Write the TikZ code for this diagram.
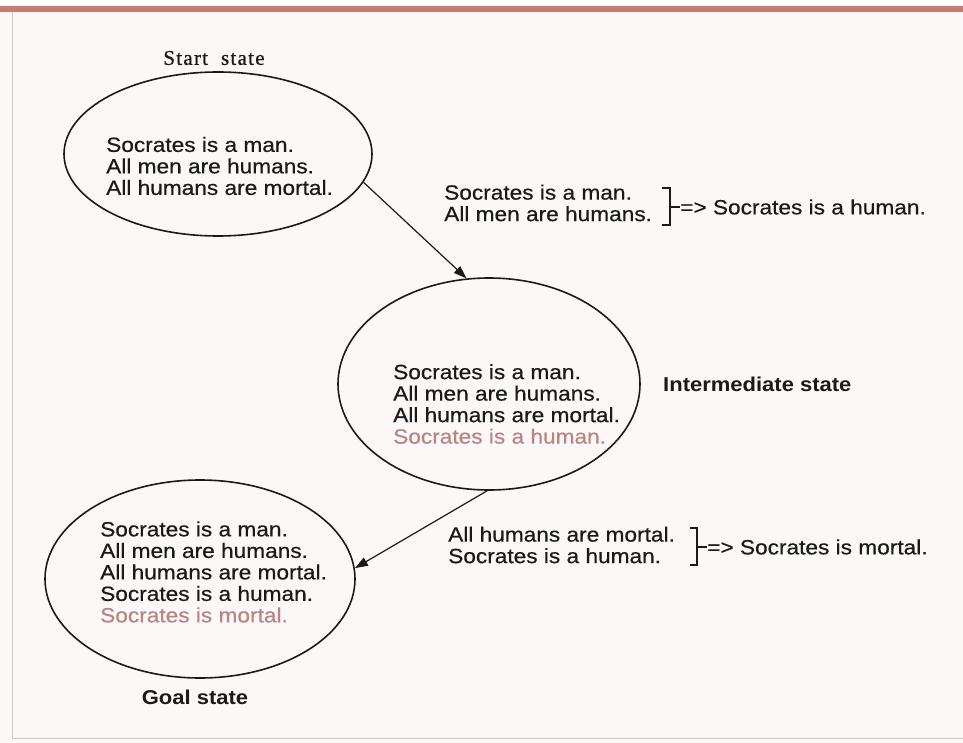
\documentclass[tikz,border=0pt]{standalone}
\usepackage{fontspec}
\setmainfont{Liberation Sans}[FakeStretch=1.1, UprightFeatures={FakeBold=0.5}]
\newfontfamily\startfont{Liberation Serif}[LetterSpace=6, FakeBold=0.8]
\usetikzlibrary{shapes.geometric,arrows.meta}
\definecolor{ink}{HTML}{1A1A1A}
\definecolor{rose}{HTML}{B98484}
\definecolor{bar}{HTML}{C97A72}
\definecolor{paper}{HTML}{FDF8F8}
\definecolor{frame}{HTML}{D2CACA}
\begin{document}
\begin{tikzpicture}[x=1pt,y=-1pt,
  statebox/.style={draw=ink, line width=1.6pt, ellipse, inner sep=0pt},
  txt/.style={align=left, inner sep=0pt, text=ink, font=\fontsize{20.6}{21.5}\selectfont},
  lbl/.style={inner sep=0pt, text=ink, font=\bfseries\fontsize{20}{24}\selectfont},
  conn/.style={draw=ink, line width=1.2pt, -{Triangle[length=13pt,width=9pt]}},
  brk/.style={draw=ink, line width=1.2pt}]
\useasboundingbox (0,0) rectangle (963,743);
\fill[paper] (0,0) rectangle (963,743);
\fill[white] (0,0) rectangle (963,6);
\fill[bar] (0,6) rectangle (963,12);
\draw[frame, line width=1pt] (12,12) -- (12,738) -- (963,738);

% states
\node[statebox, minimum width=308pt, minimum height=164pt] (start) at (218,154) {};
\node[statebox, minimum width=302pt, minimum height=212pt] (inter) at (489,384) {};
\node[statebox, minimum width=310pt, minimum height=198pt] (goal) at (200,579) {};

\node[inner sep=0pt, text=ink, font=\startfont\fontsize{21}{24}\selectfont] (startlbl) at (214,58) {Start\ \ state};
\node[lbl, anchor=west] (interlbl) at (663,384) {Intermediate state};
\node[lbl] (goallbl) at (195,697) {Goal state};

\node[txt, anchor=west] (starttxt) at (106,166) {Socrates is a man.\\All men are humans.\\All humans are mortal.};
\node[txt, anchor=west] (intertxt) at (393,404) {Socrates is a man.\\All men are humans.\\All humans are mortal.\\\textcolor{rose}{Socrates is a human.}};
\node[txt, anchor=west] (goaltxt) at (100,572) {Socrates is a man.\\All men are humans.\\All humans are mortal.\\Socrates is a human.\\\textcolor{rose}{Socrates is mortal.}};

% connectors
\draw[conn] (start.-11) -- (inter.102);
\draw[conn] (inter.-91) -- (goal.4);

% rule 1
\node[txt, anchor=west] (rule1) at (444,203) {Socrates is a man.\\All men are humans.};
\coordinate (b1t) at (662,188);
\coordinate (b1b) at (662,225);
\coordinate (b1m) at (670,207);
\draw[brk] (b1t) -| (b1b -| b1m) -- (b1b);
\node[txt, anchor=west] (res1) at (680,207) {=> Socrates is a human.};
\draw[brk] (b1m) -- (res1.west);

% rule 2
\node[txt, anchor=west] (rule2) at (448,545) {All humans are mortal.\\Socrates is a human.};
\coordinate (b2t) at (690,528);
\coordinate (b2b) at (690,565);
\coordinate (b2m) at (697,547);
\draw[brk] (b2t) -| (b2b -| b2m) -- (b2b);
\node[txt, anchor=west] (res2) at (707,547) {=> Socrates is mortal.};
\draw[brk] (b2m) -- (res2.west);
\end{tikzpicture}
\end{document}
